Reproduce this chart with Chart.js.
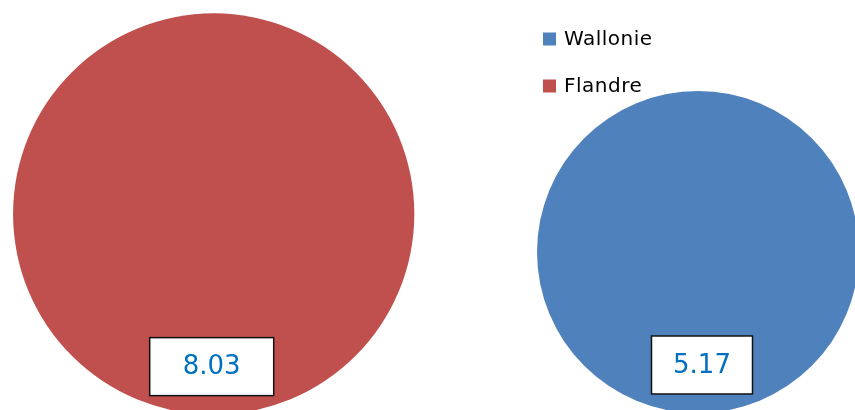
<!DOCTYPE html>
<html>
<head>
<meta charset="utf-8">
<script src="https://cdn.jsdelivr.net/npm/chart.js@4/dist/chart.umd.min.js"></script>
<style>
  html, body { margin: 0; padding: 0; background: #ffffff; }
  #wrap { position: relative; width: 855px; height: 410px; }
</style>
</head>
<body>
<div id="wrap"><canvas id="c" width="855" height="410"></canvas></div>
<script>
// ---- data ----
const categories = ['Wallonie', 'Flandre'];
const values = [5.17, 8.03];
const xPositions = [2, 1];

// ---- styles ----
const fillColors = ['#4F81BD', '#C0504D'];
const labelBoxWidths = [101, 124];
const labelDx = [4, -2];
const RADIUS_K = 70.8; // px per sqrt(value): bubble area proportional to value

const datasets = categories.map((name, i) => ({
  label: name,
  data: [{ x: xPositions[i], y: values[i], r: RADIUS_K * Math.sqrt(values[i]), v: values[i] }],
  backgroundColor: fillColors[i],
  borderWidth: 0,
  hoverBorderWidth: 0,
  hoverRadius: 0,
  clip: false,
  labelBoxWidth: labelBoxWidths[i],
  labelDx: labelDx[i]
}));

const labelPlugin = {
  id: 'valueLabels',
  afterDatasetsDraw(chart) {
    const ctx = chart.ctx;
    chart.data.datasets.forEach((ds, di) => {
      const meta = chart.getDatasetMeta(di);
      meta.data.forEach((el, j) => {
        const pt = ds.data[j];
        const w = ds.labelBoxWidth, h = 58;
        const cx = el.x + ds.labelDx;
        const cy = el.y + pt.r - 48;
        ctx.save();
        ctx.fillStyle = '#ffffff';
        ctx.fillRect(cx - w / 2, cy - h / 2, w, h);
        ctx.lineWidth = 1.5;
        ctx.strokeStyle = '#111111';
        ctx.strokeRect(cx - w / 2, cy - h / 2, w, h);
        ctx.fillStyle = '#0070C0';
        ctx.font = '26px "DejaVu Sans", Verdana, sans-serif';
        ctx.textAlign = 'center';
        ctx.textBaseline = 'middle';
        ctx.fillText(pt.v.toFixed(2), cx, cy + 1);
        ctx.restore();
      });
    });
  }
};

const legendPlugin = {
  id: 'customLegend',
  afterDraw(chart) {
    const ctx = chart.ctx;
    const x0 = 543, y0 = 39, gap = 47, box = 13;
    chart.data.datasets.forEach((ds, i) => {
      const cy = y0 + i * gap;
      ctx.save();
      ctx.fillStyle = ds.backgroundColor;
      ctx.fillRect(x0, cy - box / 2, box, box);
      ctx.fillStyle = '#000000';
      ctx.font = '20px "DejaVu Sans", Verdana, sans-serif';
      ctx.letterSpacing = '0.5px';
      ctx.textAlign = 'left';
      ctx.textBaseline = 'middle';
      ctx.fillText(ds.label, x0 + 21, cy + 1);
      ctx.restore();
    });
  }
};

new Chart(document.getElementById('c'), {
  type: 'bubble',
  data: { datasets },
  options: {
    responsive: false,
    animation: false,
    events: [],
    layout: { padding: 0, autoPadding: false },
    plugins: {
      legend: { display: false },
      tooltip: { enabled: false }
    },
    scales: {
      x: { type: 'linear', display: false, min: 0.55875, max: 2.32418 },
      y: { type: 'linear', display: false, min: -6.721, max: 24.136 }
    }
  },
  plugins: [labelPlugin, legendPlugin]
});
</script>
</body>
</html>
